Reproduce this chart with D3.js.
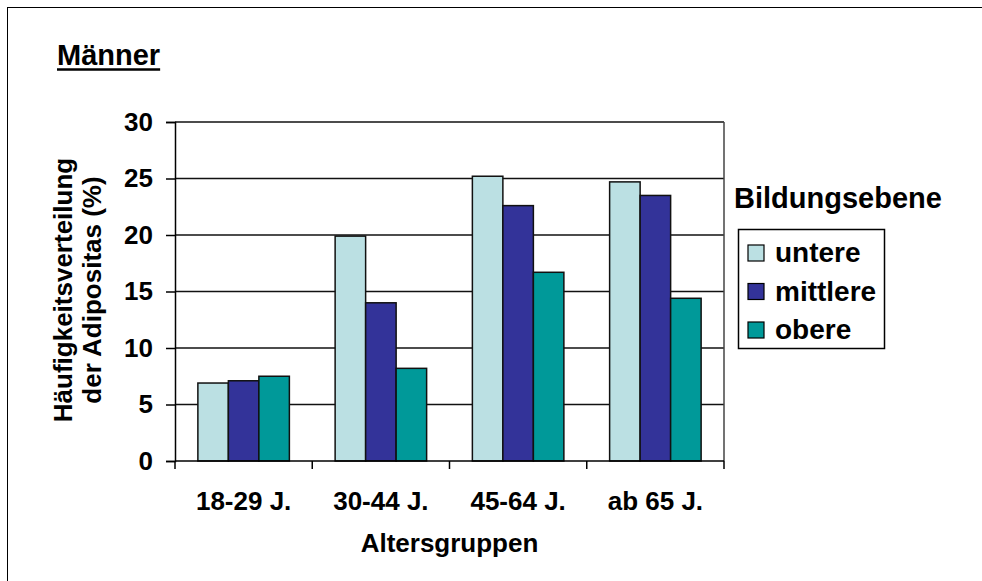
<!DOCTYPE html>
<html>
<head>
<meta charset="utf-8">
<script src="https://cdn.jsdelivr.net/npm/d3@7"></script>
<style>
  html, body { margin: 0; padding: 0; background: #fff; }
  svg text { font-family: "Liberation Sans", Arial, sans-serif; font-weight: bold; fill: #000; }
</style>
</head>
<body>
<svg id="chart" width="982" height="581"></svg>
<script>
// Age groups along the x axis
const categories = ["18-29 J.", "30-44 J.", "45-64 J.", "ab 65 J."];
// Education levels (legend entries)
const seriesNames = ["untere", "mittlere", "obere"];
const seriesColors = ["#BBE0E3", "#333399", "#009999"];
// Obesity prevalence (%) per education level, one value per age group
const untere   = [6.9, 19.9, 25.2, 24.7];
const mittlere = [7.1, 14.0, 22.6, 23.5];
const obere    = [7.5,  8.2, 16.7, 14.4];
const yTicks = [0, 5, 10, 15, 20, 25, 30];

const seriesValues = [untere, mittlere, obere];

const svg = d3.select("#chart");

// outer frame
svg.append("rect")
  .attr("x", 7.5).attr("y", 7.5)
  .attr("width", 1000).attr("height", 600)
  .attr("fill", "none").attr("stroke", "#000").attr("stroke-width", 1);

// title
const title = svg.append("text")
  .attr("x", 57).attr("y", 65)
  .style("font-size", "29px")
  .text("Männer");
const tb = title.node().getBBox();
svg.append("line")
  .attr("x1", tb.x).attr("x2", tb.x + tb.width)
  .attr("y1", 69.5).attr("y2", 69.5)
  .attr("stroke", "#000").attr("stroke-width", 2.5);

const plot = { left: 175, right: 724, top: 122, bottom: 461 };

const y = d3.scaleLinear().domain([0, 30]).range([plot.bottom, plot.top]);
const x = d3.scaleBand().domain(categories)
  .range([plot.left, plot.right])
  .paddingInner(1 / 3).paddingOuter(1 / 6);
const xs = d3.scaleBand().domain(seriesNames).range([0, x.bandwidth()]);

// gridlines
svg.append("g")
  .selectAll("line")
  .data(yTicks.filter(t => t > 0))
  .join("line")
  .attr("x1", plot.left).attr("x2", plot.right)
  .attr("y1", d => y(d)).attr("y2", d => y(d))
  .attr("stroke", "#111").attr("stroke-width", 1.5);

// right border of plot area
svg.append("line")
  .attr("x1", plot.right).attr("x2", plot.right)
  .attr("y1", plot.top).attr("y2", plot.bottom)
  .attr("stroke", "#444").attr("stroke-width", 1.5);

// bars
const barData = [];
seriesNames.forEach((s, si) => {
  categories.forEach((c, ci) => {
    barData.push({ cat: c, series: s, value: seriesValues[si][ci], color: seriesColors[si] });
  });
});
svg.append("g")
  .selectAll("rect")
  .data(barData)
  .join("rect")
  .attr("x", d => x(d.cat) + xs(d.series))
  .attr("y", d => y(d.value))
  .attr("width", xs.bandwidth())
  .attr("height", d => y(0) - y(d.value))
  .attr("fill", d => d.color)
  .attr("stroke", "#111").attr("stroke-width", 1.5);

// y axis
const yAxis = svg.append("g")
  .attr("transform", `translate(${plot.left},0)`)
  .call(d3.axisLeft(y).tickValues(yTicks).tickSize(9).tickPadding(13));
yAxis.select(".domain").attr("stroke", "#000").attr("stroke-width", 1.5);
yAxis.selectAll(".tick line").attr("stroke", "#000").attr("stroke-width", 1.5);
yAxis.selectAll(".tick text")
  .style("font-size", "26px")
  .style("font-family", "Liberation Sans, Arial, sans-serif")
  .style("font-weight", "bold")
  .attr("fill", "#000");

// x axis: baseline with ticks between category groups
svg.append("line")
  .attr("x1", plot.left).attr("x2", plot.right)
  .attr("y1", plot.bottom).attr("y2", plot.bottom)
  .attr("stroke", "#000").attr("stroke-width", 1.5);
const step = x.step();
const bounds = categories.map(c => x(c) - step * x.paddingInner() / 2)
  .concat([x(categories[categories.length - 1]) + x.bandwidth() + step * x.paddingInner() / 2]);
svg.append("g").selectAll("line")
  .data(bounds)
  .join("line")
  .attr("x1", d => d).attr("x2", d => d)
  .attr("y1", plot.bottom).attr("y2", plot.bottom + 8)
  .attr("stroke", "#000").attr("stroke-width", 1.5);

svg.append("g").selectAll("text")
  .data(categories)
  .join("text")
  .attr("x", d => x(d) + x.bandwidth() / 2)
  .attr("y", 510)
  .attr("text-anchor", "middle")
  .style("font-size", "26px")
  .text(d => d);

// axis titles
svg.append("text")
  .attr("x", (plot.left + plot.right) / 2)
  .attr("y", 552)
  .attr("text-anchor", "middle")
  .style("font-size", "26px")
  .text("Altersgruppen");

const yTitle = svg.append("text")
  .attr("transform", "translate(0,290) rotate(-90)")
  .attr("text-anchor", "middle")
  .style("font-size", "26px");
yTitle.append("tspan").attr("x", 0).attr("y", 72).text("Häufigkeitsverteilung");
yTitle.append("tspan").attr("x", 0).attr("y", 101).text("der Adipositas (%)");

// legend
svg.append("text")
  .attr("x", 734).attr("y", 208)
  .style("font-size", "29px")
  .text("Bildungsebene");

svg.append("rect")
  .attr("x", 738.5).attr("y", 229.5)
  .attr("width", 146).attr("height", 119)
  .attr("fill", "#fff").attr("stroke", "#000").attr("stroke-width", 1.5);

const legendY = d3.scalePoint().domain(seriesNames).range([253, 330]);
const items = svg.append("g").selectAll("g")
  .data(seriesNames)
  .join("g")
  .attr("transform", d => `translate(748,${legendY(d)})`);
items.append("rect")
  .attr("x", 0).attr("y", -8)
  .attr("width", 16).attr("height", 16)
  .attr("fill", (d, i) => seriesColors[i])
  .attr("stroke", "#000").attr("stroke-width", 1.2);
items.append("text")
  .attr("x", 27).attr("y", 9)
  .style("font-size", "28px")
  .text(d => d);
</script>
</body>
</html>
